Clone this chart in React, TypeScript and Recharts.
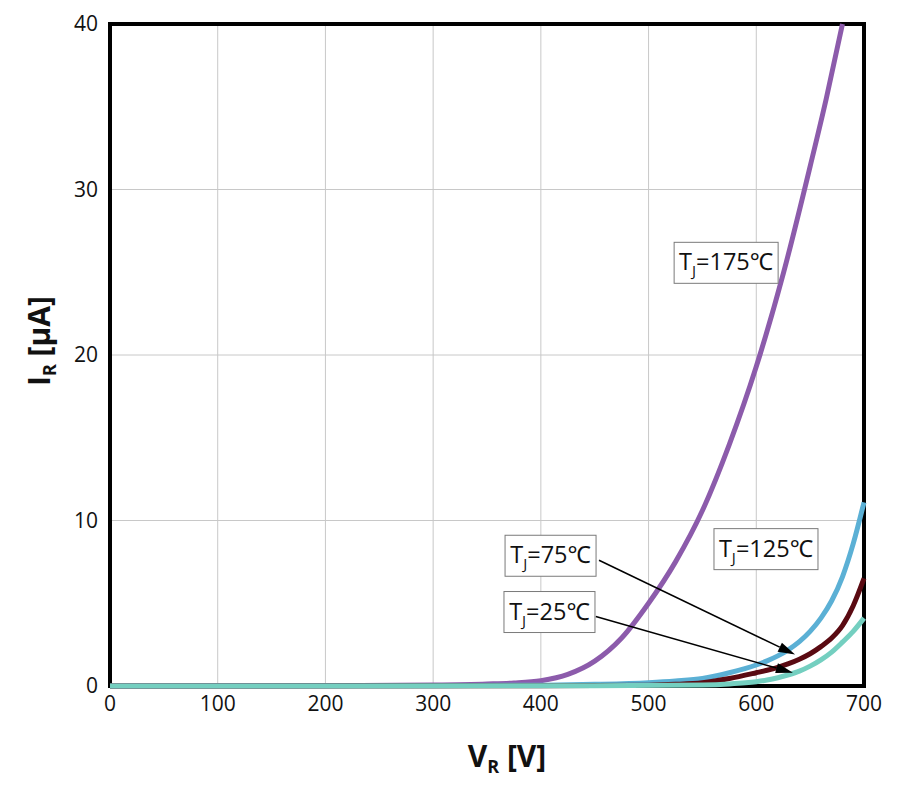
import React from 'react';
import {
  LineChart, Line, XAxis, YAxis, CartesianGrid, ReferenceArea, ReferenceDot, ReferenceLine, Label,
} from 'recharts';

// Reverse leakage current I_R [µA] vs reverse voltage V_R [V] at four junction temperatures
const tj175V = [0, 100, 200, 300, 350, 375, 400, 425, 450, 475, 500, 525, 550, 575, 600, 625, 650, 665, 680];
const tj175I = [0, 0.01, 0.02, 0.06, 0.12, 0.18, 0.32, 0.7, 1.5, 2.9, 5.0, 7.5, 10.6, 14.6, 19.3, 24.9, 31.4, 35.5, 40];

const tj125V = [0, 200, 300, 400, 450, 500, 525, 550, 575, 600, 610, 620, 630, 640, 650, 660, 670, 680, 690, 700];
const tj125I = [0, 0.01, 0.02, 0.05, 0.1, 0.2, 0.3, 0.45, 0.8, 1.27, 1.52, 1.82, 2.2, 2.68, 3.3, 4.1, 5.15, 6.6, 8.6, 11.1];

const tj75V = [0, 400, 500, 525, 550, 575, 600, 610, 620, 630, 640, 650, 660, 670, 680, 690, 700];
const tj75I = [0, 0.01, 0.05, 0.1, 0.2, 0.45, 0.8, 0.95, 1.13, 1.35, 1.62, 1.95, 2.38, 2.9, 3.65, 4.85, 6.5];

const tj25V = [0, 450, 550, 575, 590, 600, 610, 620, 630, 640, 650, 660, 670, 680, 690, 700];
const tj25I = [0, 0.01, 0.06, 0.12, 0.19, 0.26, 0.36, 0.5, 0.68, 0.9, 1.2, 1.58, 2.05, 2.65, 3.3, 4.1];

const xTicks = [0, 100, 200, 300, 400, 500, 600, 700];
const yTicks = [0, 10, 20, 30, 40];

const toPoints = (vs: number[], is: number[]) => vs.map((v, k) => ({ v, i: is[k] }));

const series = [
  { name: '175', data: toPoints(tj175V, tj175I), color: '#8c5bab' },
  { name: '125', data: toPoints(tj125V, tj125I), color: '#5bb0d5' },
  { name: '75', data: toPoints(tj75V, tj75I), color: '#5a0a12' },
  { name: '25', data: toPoints(tj25V, tj25I), color: '#74cfc0' },
];

// temperature tags (box centre in data units)
const tags = [
  { temp: '175', v: 572, i: 25.6, w: 104 },
  { temp: '125', v: 609, i: 8.3, w: 104 },
  { temp: '75', v: 409, i: 7.9, w: 91 },
  { temp: '25', v: 408, i: 4.5, w: 91 },
];

// leader arrows from the 75/25 tags to their curves
const arrows = [
  { from: { x: 454, y: 7.6 }, to: { x: 636, y: 1.9 } },
  { from: { x: 451, y: 4.2 }, to: { x: 634, y: 0.8 } },
];

const FONT = '"Open Sans", "Noto Sans", sans-serif';

const TagBox = (props: any) => {
  const { cx, cy, temp, w } = props;
  return (
    <g>
      <rect x={cx - w / 2} y={cy - 20} width={w} height={41} fill="#fff" stroke="#7a7a7a" strokeWidth={1} />
      <text x={cx} y={cy + 8} textAnchor="middle" fontSize={23.5} fontFamily={FONT} fill="#111">
        T<tspan fontSize={15} dy={6}>J</tspan>
        <tspan dy={-6}>={temp}℃</tspan>
      </text>
    </g>
  );
};

const Arrow = (props: any) => {
  const { x1, y1, x2, y2 } = props;
  const ang = Math.atan2(y2 - y1, x2 - x1);
  const len = 17;
  const half = 5;
  const bx = x2 - len * Math.cos(ang);
  const by = y2 - len * Math.sin(ang);
  const nx = -Math.sin(ang) * half;
  const ny = Math.cos(ang) * half;
  return (
    <g>
      <line x1={x1} y1={y1} x2={bx} y2={by} stroke="#000" strokeWidth={1.5} />
      <polygon points={`${x2},${y2} ${bx + nx},${by + ny} ${bx - nx},${by - ny}`} fill="#000" />
    </g>
  );
};

export default function App() {
  return (
    <div style={{ position: 'absolute', left: 0, top: 0, background: '#fff' }}>
      <LineChart
        width={910}
        height={790}
        margin={{ top: 24, right: 46, bottom: 64, left: 40 }}
        style={{ fontFamily: FONT }}
      >
        <CartesianGrid stroke="#c8c8c8" strokeWidth={1} />
        <XAxis
          type="number"
          dataKey="v"
          domain={[0, 700]}
          ticks={xTicks}
          height={40}
          axisLine={false}
          tickLine={false}
          tickMargin={4}
          tick={{ fontSize: 21, fill: '#111', fontFamily: FONT }}
        >
          <Label
            content={(p: any) => (
              <text x={p.viewBox.x + p.viewBox.width / 2 + 20} y={767} textAnchor="middle"
                fontSize={30} fontWeight="bold" fontFamily={FONT} fill="#111">
                V<tspan fontSize={18} dy={6}>R</tspan>
                <tspan dy={-6}> [V]</tspan>
              </text>
            )}
          />
        </XAxis>
        <YAxis
          type="number"
          domain={[0, 40]}
          ticks={yTicks}
          width={70}
          axisLine={false}
          tickLine={false}
          tickMargin={6}
          tick={{ fontSize: 21, fill: '#111', fontFamily: FONT }}
        >
          <Label
            content={() => (
              <text x={50} y={341} transform="rotate(-90, 50, 341)" textAnchor="middle"
                fontSize={30} fontWeight="bold" fontFamily={FONT} fill="#111">
                I<tspan fontSize={18} dy={6}>R</tspan>
                <tspan dy={-6}> [µA]</tspan>
              </text>
            )}
          />
        </YAxis>
        {series.map((s) => (
          <Line
            key={s.name}
            data={s.data}
            dataKey="i"
            type="monotone"
            stroke={s.color}
            strokeWidth={5}
            dot={false}
            activeDot={false}
            isAnimationActive={false}
          />
        ))}
        <ReferenceArea x1={0} x2={700} y1={0} y2={40} fill="none" stroke="#000" strokeWidth={4} ifOverflow="visible" />
        {arrows.map((a, k) => (
          <ReferenceLine key={`arr-${k}`} segment={[a.from, a.to]} shape={Arrow} ifOverflow="visible" />
        ))}
        {tags.map((t) => (
          <ReferenceDot
            key={t.temp}
            x={t.v}
            y={t.i}
            r={0}
            ifOverflow="visible"
            shape={(p: any) => <TagBox {...p} temp={t.temp} w={t.w} />}
          />
        ))}
      </LineChart>
    </div>
  );
}
